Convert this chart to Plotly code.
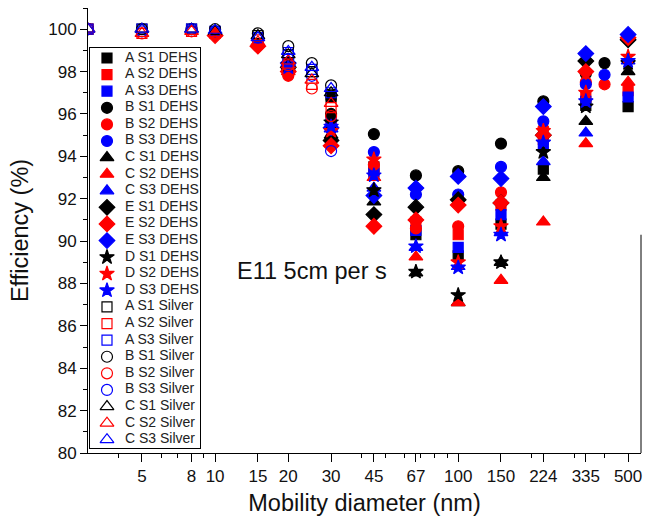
import math
import plotly.graph_objects as go

# Particle mobility diameters (nm)
sizes_silver = [3, 5, 8, 10, 15, 20, 25, 30]
sizes_dehs = [10, 15, 20, 30, 45, 67, 100, 150, 224, 335, 400, 500]

# Collection efficiency (%) with DEHS test aerosol
a_s1_dehs = [None, None, 98.3, 96.8, 93.5, 90.3, 89.3, 90.8, 93.4, 96.4, None, 96.35]
a_s2_dehs = [None, None, 98.0, 95.5, 93.3, 90.9, 90.3, 91.7, 94.8, 96.8, None, 97.1]
a_s3_dehs = [None, None, 98.2, 95.8, 93.2, 90.5, 89.7, 91.25, 94.5, 96.6, None, 96.8]
b_s1_dehs = [None, None, 98.4, 96.0, 95.05, 93.1, 93.3, 94.6, 96.6, 97.9, 98.4, None]
b_s2_dehs = [None, None, 97.8, 94.9, 93.6, 90.6, 90.7, 92.3, 95.3, 97.5, 97.4, None]
b_s3_dehs = [None, None, 98.1, 95.4, 94.2, 92.2, 92.2, 93.5, 95.65, 97.4, 97.85, None]
c_s1_dehs = [None, None, 98.2, 95.0, 91.85, 88.5, 87.1, 89.0, 93.0, 95.65, None, 98.0]
c_s2_dehs = [None, None, 98.0, 94.6, 93.0, 89.25, 87.1, 88.15, 90.9, 94.6, None, 97.5]
c_s3_dehs = [None, None, 98.3, 95.3, 92.5, 89.7, 88.8, 90.4, 93.75, 95.1, None, 98.5]
e_s1_dehs = [None, None, 98.2, 94.75, 91.25, 91.6, 91.95, 91.8, 95.0, 98.5, None, 99.5]
e_s2_dehs = [99.7, 99.2, 98.0, 94.5, 90.7, 91.0, 91.7, 91.8, 95.0, 98.0, None, 99.6]
e_s3_dehs = [None, None, 98.4, 95.35, 92.15, 92.5, 93.05, 92.95, 96.35, 98.85, None, 99.75]
d_s1_dehs = [None, None, 98.3, 95.6, 92.4, 88.55, 87.45, 89.0, 94.2, 96.35, None, 98.4]
d_s2_dehs = [None, None, 98.1, 95.2, 93.85, 90.9, 89.0, 90.7, 95.2, 97.0, None, 98.7]
d_s3_dehs = [None, None, 98.2, 95.4, 93.1, 89.75, 88.75, 90.3, 94.65, 96.6, None, 98.5]

# Collection efficiency (%) with silver nanoparticles
a_s1_silver = [100, 100, 100, 99.9, 99.7, 98.8, 98.0, 96.9]
a_s2_silver = [100, 99.8, 99.9, 99.8, 99.5, 98.4, 97.4, 96.3]
a_s3_silver = [100, 100, 100, 99.9, 99.6, 98.9, 98.1, 97.0]
b_s1_silver = [100, 100, 100, 100, 99.8, 99.2, 98.4, 97.35]
b_s2_silver = [100, 99.8, 99.9, 99.8, 99.3, 98.3, 97.2, 95.9]
b_s3_silver = [100, 99.9, 100, 99.9, 99.6, 98.6, 97.8, 94.25]
c_s1_silver = [100, 100, 100, 99.9, 99.7, 98.8, 97.9, 97.0]
c_s2_silver = [100, 99.8, 99.9, 99.8, 99.4, 98.5, 97.6, 96.5]
c_s3_silver = [100, 100, 100, 99.95, 99.6, 98.95, 98.2, 97.2]

tick_sizes = [5, 8, 10, 15, 20, 30, 45, 67, 100, 150, 224, 335, 500]
minor_sizes = [4, 6, 7, 9, 40, 50, 60, 70, 80, 90, 200, 300, 400]

BLACK, RED, BLUE = "#000000", "#FF0000", "#0000FF"
FONT = "Arial, Liberation Sans, sans-serif"

series = [
    ("A S1 DEHS", sizes_dehs, a_s1_dehs, "square", BLACK, 10),
    ("A S2 DEHS", sizes_dehs, a_s2_dehs, "square", RED, 10),
    ("A S3 DEHS", sizes_dehs, a_s3_dehs, "square", BLUE, 10),
    ("B S1 DEHS", sizes_dehs, b_s1_dehs, "circle", BLACK, 11),
    ("B S2 DEHS", sizes_dehs, b_s2_dehs, "circle", RED, 11),
    ("B S3 DEHS", sizes_dehs, b_s3_dehs, "circle", BLUE, 11),
    ("C S1 DEHS", sizes_dehs, c_s1_dehs, "triangle-up", BLACK, 12),
    ("C S2 DEHS", sizes_dehs, c_s2_dehs, "triangle-up", RED, 12),
    ("C S3 DEHS", sizes_dehs, c_s3_dehs, "triangle-up", BLUE, 12),
    ("E S1 DEHS", sizes_dehs, e_s1_dehs, "diamond", BLACK, 12),
    ("E S2 DEHS", sizes_dehs, e_s2_dehs, "diamond", RED, 12),
    ("E S3 DEHS", sizes_dehs, e_s3_dehs, "diamond", BLUE, 12),
    ("D S1 DEHS", sizes_dehs, d_s1_dehs, "star", BLACK, 11),
    ("D S2 DEHS", sizes_dehs, d_s2_dehs, "star", RED, 11),
    ("D S3 DEHS", sizes_dehs, d_s3_dehs, "star", BLUE, 11),
    ("A S1 Silver", sizes_silver, a_s1_silver, "square-open", BLACK, 10),
    ("A S2 Silver", sizes_silver, a_s2_silver, "square-open", RED, 10),
    ("A S3 Silver", sizes_silver, a_s3_silver, "square-open", BLUE, 10),
    ("B S1 Silver", sizes_silver, b_s1_silver, "circle-open", BLACK, 11),
    ("B S2 Silver", sizes_silver, b_s2_silver, "circle-open", RED, 11),
    ("B S3 Silver", sizes_silver, b_s3_silver, "circle-open", BLUE, 11),
    ("C S1 Silver", sizes_silver, c_s1_silver, "triangle-up-open", BLACK, 12),
    ("C S2 Silver", sizes_silver, c_s2_silver, "triangle-up-open", RED, 12),
    ("C S3 Silver", sizes_silver, c_s3_silver, "triangle-up-open", BLUE, 12),
]

fig = go.Figure()

for name, xs, ys, sym, col, size in series:
    fig.add_trace(go.Scatter(
        x=xs, y=ys, mode="markers", name=name, showlegend=False,
        marker=dict(symbol=sym, color=col, size=size, line=dict(color=col, width=1.2)),
    ))

# Key panel: a small subplot listing every series with its marker
for i, (name, xs, ys, sym, col, size) in enumerate(series):
    fig.add_trace(go.Scatter(
        x=[17], y=[i], xaxis="x2", yaxis="y2", mode="markers", showlegend=False,
        hoverinfo="skip",
        marker=dict(symbol=sym, color=col, size=size, line=dict(color=col, width=1.2)),
    ))
fig.add_trace(go.Scatter(
    x=[35] * len(series), y=list(range(len(series))), xaxis="x2", yaxis="y2",
    mode="text", text=[s[0] for s in series], textposition="middle right",
    textfont=dict(family=FONT, size=14, color="#222222"),
    showlegend=False, hoverinfo="skip",
))

fig.add_annotation(
    text="E11 5cm per s", xref="paper", yref="paper", x=0.405, y=0.409,
    showarrow=False, font=dict(family=FONT, size=23.5, color="#111111"),
)

# short right-hand frame segment
fig.add_shape(type="line", xref="paper", yref="y", x0=1, x1=1, y0=80, y1=90.3,
              line=dict(color="black", width=1))

fig.update_layout(
    width=646, height=525,
    margin=dict(l=88, r=5, t=8, b=72),
    paper_bgcolor="white", plot_bgcolor="white",
    font=dict(family=FONT, color="#000000"),
    xaxis=dict(
        type="log", range=[math.log10(3), math.log10(565)],
        tickmode="array", tickvals=tick_sizes, ticktext=[str(v) for v in tick_sizes],
        ticks="outside", ticklen=8, tickwidth=1, tickcolor="black",
        minor=dict(tickmode="array", tickvals=minor_sizes, ticks="outside", ticklen=4,
                   tickcolor="black", showgrid=False),
        showline=True, linecolor="black", linewidth=1,
        showgrid=False, zeroline=False,
        tickfont=dict(family=FONT, size=17, color="#111111"),
        title=dict(text="Mobility diameter (nm)", font=dict(family=FONT, size=23.5, color="#111111"),
                   standoff=9),
    ),
    yaxis=dict(
        range=[80, 101], tickmode="array", tickvals=list(range(80, 101, 2)),
        ticks="outside", ticklen=7, tickwidth=1, tickcolor="black",
        minor=dict(dtick=1, ticks="outside", ticklen=4, tickcolor="black", showgrid=False),
        showline=True, linecolor="black", linewidth=1,
        showgrid=False, zeroline=False,
        tickfont=dict(family=FONT, size=17, color="#111111"),
        title=dict(text="Efficiency (%)", font=dict(family=FONT, size=23.5, color="#111111"),
                   standoff=12),
    ),
    xaxis2=dict(
        domain=[0.0036, 0.2025], anchor="y2", range=[0, 110], fixedrange=True,
        showline=True, mirror=True, linecolor="black", linewidth=1,
        showticklabels=False, ticks="", showgrid=False, zeroline=False,
    ),
    yaxis2=dict(
        domain=[0.0112, 0.910], anchor="x2", range=[23.5, -0.6], fixedrange=True,
        showline=True, mirror=True, linecolor="black", linewidth=1,
        showticklabels=False, ticks="", showgrid=False, zeroline=False,
    ),
)

fig.write_html("out.html")
